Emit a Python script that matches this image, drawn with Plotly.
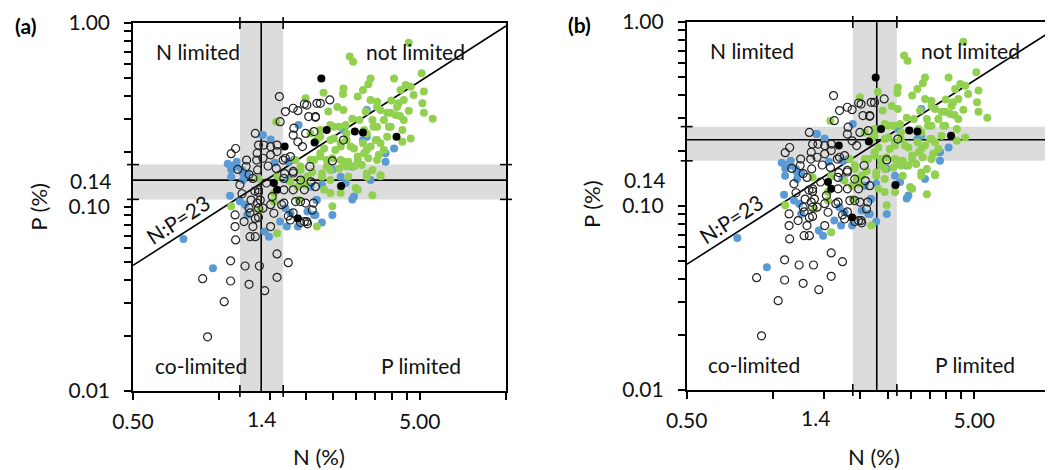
import numpy as np
import plotly.graph_objects as go

# ---------------- data (N %, P %) ----------------
open_N = [1.62, 1.70, 1.81, 1.88, 1.98, 2.19, 1.63, 2.05, 2.165, 1.335, 1.82, 1.81, 2.0, 2.14,
          1.14, 1.37, 1.51, 1.59, 1.88, 1.355, 1.51, 1.59, 1.70, 1.35, 1.24, 1.36, 1.48, 1.58,
          1.69, 1.81, 1.31, 1.68, 1.29, 1.39, 1.53, 1.68, 1.81, 1.845, 1.92, 1.135, 1.27, 1.37,
          1.42, 1.55, 1.22, 1.335, 1.37, 1.31, 1.51, 1.74, 1.98, 2.03, 1.28, 1.335, 1.14, 1.59,
          1.74, 1.095, 1.23, 1.38, 0.875, 1.095, 1.27, 1.59, 1.44, 1.04, 0.91, 2.43, 2.25, 2.165,
          2.02, 2.71, 2.48, 2.07, 1.98, 2.165, 2.0, 2.11, 2.02, 1.95, 1.37, 1.46, 1.42, 1.18,
          1.51, 1.65, 1.10, 1.16, 1.27, 1.20, 1.33,
          1.245, 1.43, 1.67, 1.77, 1.81, 1.92, 2.09, 2.13, 1.37, 1.355, 1.28, 1.135, 1.68, 1.81,
          1.77, 1.92]
open_P = [0.398, 0.33, 0.344, 0.334, 0.363, 0.366, 0.291, 0.31, 0.31, 0.251, 0.268, 0.246, 0.251,
          0.257, 0.208, 0.217, 0.213, 0.217, 0.226, 0.196, 0.192, 0.20, 0.184, 0.18, 0.166, 0.159,
          0.167, 0.162, 0.152, 0.156, 0.143, 0.143, 0.109, 0.109, 0.114, 0.124, 0.124, 0.107,
          0.107, 0.0906, 0.0985, 0.0985, 0.0985, 0.0925, 0.0833, 0.0867, 0.0878, 0.0783, 0.0783,
          0.0894, 0.0833, 0.081, 0.069, 0.069, 0.0662, 0.0556, 0.0498, 0.051, 0.0478, 0.0478,
          0.0408, 0.0396, 0.038, 0.0415, 0.0351, 0.0306, 0.0197, 0.382, 0.366, 0.307, 0.358,
          0.231, 0.178, 0.166, 0.124, 0.129, 0.105, 0.0964, 0.0833, 0.213, 0.124, 0.135, 0.184,
          0.132, 0.103, 0.103, 0.195, 0.160, 0.150, 0.118, 0.122,
          0.18, 0.217, 0.18, 0.188, 0.153, 0.14, 0.137, 0.105, 0.12, 0.105, 0.093, 0.0783, 0.105,
          0.093, 0.085, 0.0823]

blue_N = [1.89, 1.42, 1.51, 1.15, 1.10, 1.20, 1.21, 1.56, 1.74, 1.82, 1.09, 1.18, 1.74, 1.25,
          1.70, 1.77, 1.63, 1.72, 1.49, 1.44, 2.165, 2.19, 2.03, 1.88, 0.75, 0.95, 3.27, 2.71,
          3.17, 4.07, 3.8, 2.91, 2.48, 2.28, 2.65, 2.76, 2.95, 2.48, 2.28, 2.14, 2.18, 2.08,
          2.03, 3.37, 3.8, 2.91, 3.27, 1.12, 1.07, 1.25, 1.10, 1.21, 1.15, 1.41, 1.23]
blue_P = [0.279, 0.246, 0.233, 0.176, 0.16, 0.159, 0.14, 0.174, 0.176, 0.18, 0.115, 0.107, 0.14,
          0.0906, 0.0985, 0.0925, 0.0833, 0.0783, 0.069, 0.0737, 0.0906, 0.109, 0.0945, 0.0783,
          0.067, 0.0464, 0.337, 0.262, 0.231, 0.208, 0.196, 0.166, 0.16, 0.132, 0.146, 0.135,
          0.114, 0.0906, 0.0823, 0.0906, 0.109, 0.129, 0.146, 0.14, 0.176, 0.11, 0.241,
          0.168, 0.172, 0.150, 0.146, 0.152, 0.166, 0.246, 0.103]

green_N = [2.0, 1.58, 2.08, 1.37, 1.59, 1.95, 1.10, 1.55, 1.39, 1.89, 2.19, 1.59, 2.85, 2.93,
           4.58, 5.08, 3.37, 3.31, 2.71, 2.31, 2.70, 3.17, 4.07, 4.47, 4.65, 5.17, 4.29, 3.04,
           3.37, 3.55, 2.58, 2.71, 3.98, 4.22, 4.76, 5.11, 4.58, 3.24, 3.65, 3.85, 4.12, 2.91,
           3.08, 3.42, 4.27, 5.17, 5.55, 2.44, 2.62, 3.55, 3.9, 4.35, 4.65, 4.35, 2.25, 2.51,
           2.78, 3.27, 3.51, 3.65, 3.17, 2.32, 2.65, 2.95, 3.27, 3.6, 3.04, 3.31, 2.82, 2.25,
           2.48, 2.71, 2.37, 2.62, 2.95, 2.82, 3.27, 3.65, 2.28, 2.32, 2.65, 3.42, 3.04, 2.48,
           3.42, 2.99, 2.08, 1.92, 2.11, 2.44, 2.54, 1.77, 1.845, 2.0, 3.14, 2.76, 2.40,
           2.14, 2.25, 2.37, 2.44, 2.28, 2.65, 2.78, 3.04, 3.2, 3.37, 2.87, 2.65, 2.44, 2.19,
           2.25, 2.51, 2.78, 3.2, 3.45, 3.75, 3.96, 4.17, 4.4, 3.55, 3.55, 3.85, 3.96, 4.4,
           3.55, 3.75, 3.27, 3.65, 2.65, 2.44, 1.92, 2.03, 1.88, 1.55]
green_P = [0.39, 0.291, 0.251, 0.143, 0.145, 0.14, 0.101, 0.107, 0.0964, 0.109, 0.0783, 0.072,
           0.657, 0.616, 0.78, 0.534, 0.50, 0.464, 0.44, 0.418, 0.411, 0.432, 0.50, 0.46, 0.451,
           0.425, 0.432, 0.398, 0.382, 0.373, 0.35, 0.337, 0.379, 0.366, 0.406, 0.366, 0.334,
           0.33, 0.337, 0.325, 0.316, 0.302, 0.297, 0.297, 0.312, 0.325, 0.302, 0.279, 0.273,
           0.273, 0.273, 0.262, 0.236, 0.226, 0.241, 0.236, 0.231, 0.251, 0.231, 0.222, 0.222,
           0.208, 0.213, 0.208, 0.204, 0.192, 0.188, 0.184, 0.176, 0.188, 0.184, 0.176, 0.166,
           0.162, 0.166, 0.146, 0.146, 0.147, 0.146, 0.124, 0.119, 0.116, 0.124, 0.101, 0.159,
           0.127, 0.18, 0.159, 0.155, 0.14, 0.204, 0.137, 0.18, 0.132, 0.169, 0.279, 0.33,
           0.18, 0.196, 0.18, 0.159, 0.152, 0.18, 0.166, 0.18, 0.196, 0.213, 0.213, 0.222, 0.231,
           0.231, 0.262, 0.273, 0.251, 0.262, 0.273, 0.297, 0.325, 0.35, 0.382, 0.35, 0.231,
           0.241, 0.273, 0.297, 0.18, 0.204, 0.152, 0.149, 0.129, 0.119, 0.166, 0.146, 0.129,
           0.119]

black_N = [2.27, 2.37, 2.97, 3.17, 4.15, 2.15, 1.69, 1.55, 1.59, 2.66, 1.88]
black_P = [0.50, 0.262, 0.257, 0.254, 0.241, 0.224, 0.213, 0.135, 0.124, 0.13, 0.0867]

# thresholds for panel (a) and (b)
N_thr = [1.4, 2.29]
N_band_lo = [1.18, 1.89]
N_band_hi = [1.67, 2.69]
P_thr = [0.14, 0.229]
P_band_lo = [0.11, 0.176]
P_band_hi = [0.17, 0.27]
NP_molar = 23            # N:P molar ratio  -> mass ratio = 23*14/31
line_N = [0.5, 10.0]

x_major = [0.5, 5.0]
x_major_text = ["0.50", "5.00"]
x_minor = [1.0, 1.5, 2.0, 2.5, 3.0, 3.5, 4.0, 4.5, 10.0]
y_major = [0.01, 0.1, 1.0]
y_major_text = ["0.01", "0.10", "1.00"]
y_minor = [0.02, 0.03, 0.04, 0.05, 0.06, 0.07, 0.08, 0.09, 0.2, 0.3, 0.4, 0.5, 0.6, 0.7, 0.8, 0.9]

regions = ["N limited", "not limited", "co-limited", "P limited"]
region_N = [0.84, 4.84, 0.86, 5.04]
region_P = [0.70, 0.70, 0.0138, 0.0138]

# ---------------- figure ----------------
OFF = 8                       # page body margin in the browser
W, H = 1053 - OFF, 470 - OFF
FONT = "Lato, Carlito, Calibri, sans-serif"
FS = 21
BLUE = "#5B9BD5"
GREEN = "#92D050"
BAND = "#DCDCDC"
TXT = "#111111"


def px_x(p):
    return (p - OFF) / W


def px_y(p):
    return 1 - (p - OFF) / H


fig = go.Figure()
axes = [("x", "y"), ("x2", "y2")]
line_P = [n * 31 / (14 * NP_molar) for n in line_N]

for i, (xa, ya) in enumerate(axes):
    fig.add_trace(go.Scatter(x=line_N, y=line_P, mode="lines", xaxis=xa, yaxis=ya,
                             line=dict(color="black", width=1.6), showlegend=False, hoverinfo="skip"))
    fig.add_trace(go.Scatter(x=blue_N, y=blue_P, mode="markers", xaxis=xa, yaxis=ya,
                             marker=dict(color=BLUE, size=8), showlegend=False))
    fig.add_trace(go.Scatter(x=green_N, y=green_P, mode="markers", xaxis=xa, yaxis=ya,
                             marker=dict(color=GREEN, size=8), showlegend=False))
    fig.add_trace(go.Scatter(x=open_N, y=open_P, mode="markers", xaxis=xa, yaxis=ya,
                             marker=dict(symbol="circle-open", color="#222222", size=8,
                                         line=dict(width=1.2)), showlegend=False))
    fig.add_trace(go.Scatter(x=black_N, y=black_P, mode="markers", xaxis=xa, yaxis=ya,
                             marker=dict(color="black", size=8), showlegend=False))

    xd = xa + " domain"
    yd = ya + " domain"
    # gray bands
    fig.add_shape(type="rect", xref=xa, yref=yd, x0=N_band_lo[i], x1=N_band_hi[i], y0=0, y1=1,
                  fillcolor=BAND, line_width=0, layer="below")
    fig.add_shape(type="rect", xref=xd, yref=ya, x0=0, x1=1, y0=P_band_lo[i], y1=P_band_hi[i],
                  fillcolor=BAND, line_width=0, layer="below")
    # threshold lines
    fig.add_shape(type="line", xref=xa, yref=yd, x0=N_thr[i], x1=N_thr[i], y0=0, y1=1,
                  line=dict(color="black", width=1.6), layer="below")
    fig.add_shape(type="line", xref=xd, yref=ya, x0=0, x1=1, y0=P_thr[i], y1=P_thr[i],
                  line=dict(color="black", width=1.6), layer="below")
    # band edge crosses
    for xv in (N_band_lo[i], N_band_hi[i]):
        for yanc in (0, 1):
            fig.add_shape(type="line", xref=xa, yref=yd, x0=xv, x1=xv, ysizemode="pixel",
                          yanchor=yanc, y0=-6, y1=6, line=dict(color="black", width=1.6))
    for yv in (P_band_lo[i], P_band_hi[i]):
        for xanc in (0, 1):
            fig.add_shape(type="line", xref=xd, yref=ya, y0=yv, y1=yv, xsizemode="pixel",
                          xanchor=xanc, x0=-6, x1=6, line=dict(color="black", width=1.6))
    # region labels
    for t, rn, rp in zip(regions, region_N, region_P):
        fig.add_annotation(x=np.log10(rn), y=np.log10(rp), xref=xa, yref=ya, text=t,
                           xanchor="center", yanchor="middle",
                           showarrow=False, font=dict(family=FONT, size=FS, color=TXT))
    fig.add_annotation(x=np.log10(0.715), y=np.log10(0.085), xref=xa, yref=ya, text="N:P=23",
                       xanchor="center", yanchor="middle",
                       textangle=-33, showarrow=False, font=dict(family=FONT, size=FS, color=TXT))
    # extra tick labels 1.4 and 0.14
    fig.add_annotation(x=np.log10(1.4), y=0, xref=xa, yref=yd, xanchor="center", yanchor="top",
                       yshift=-13, text="1.4", showarrow=False,
                       font=dict(family=FONT, size=FS, color=TXT))
    fig.add_annotation(x=0, y=np.log10(0.14), xref=xd, yref=ya, xanchor="right", yanchor="middle",
                       xshift=-19, text="0.14", showarrow=False,
                       font=dict(family=FONT, size=FS, color=TXT))

axis_common = dict(type="log", showgrid=False, zeroline=False, showline=True, linecolor="black",
                   linewidth=1.6, ticks="outside", ticklen=7, tickwidth=1.6, tickcolor="black",
                   automargin=False, ticklabeloverflow="allow",
                   tickfont=dict(family=FONT, size=FS, color=TXT))
minor_common = dict(ticks="outside", ticklen=7, tickwidth=1.6, tickcolor="black")

x_a_dom = [px_x(133), px_x(506)]
x_b_dom = [px_x(686.7), 1.0]
y_a_dom = [px_y(391), px_y(23)]
y_b_dom = [px_y(390), px_y(22)]
xr_a = [np.log10(0.5), np.log10(10)]
xr_b = [np.log10(0.5), np.log10(0.5) + (1053 - 686.7) / 287.6]

fig.update_layout(
    template="none",
    width=W, height=H, margin=dict(l=0, r=0, t=0, b=0, autoexpand=False),
    paper_bgcolor="white", plot_bgcolor="white",
    xaxis=dict(axis_common, domain=x_a_dom, range=xr_a, anchor="y", mirror=True, ticklabelstandoff=4,
               tickvals=x_major, ticktext=x_major_text, minor=dict(minor_common, tickvals=x_minor)),
    yaxis=dict(axis_common, domain=y_a_dom, range=[-2, 0], anchor="x", mirror=True, ticklabelstandoff=10,
               tickvals=y_major, ticktext=y_major_text, minor=dict(minor_common, tickvals=y_minor)),
    xaxis2=dict(axis_common, domain=x_b_dom, range=xr_b, anchor="y2", mirror=True, ticklabelstandoff=4,
                tickvals=x_major, ticktext=x_major_text, minor=dict(minor_common, tickvals=x_minor)),
    yaxis2=dict(axis_common, domain=y_b_dom, range=[-2, 0], anchor="x2", mirror=False, ticklabelstandoff=10,
                tickvals=y_major, ticktext=y_major_text, minor=dict(minor_common, tickvals=y_minor)),
)

# panel letters and axis titles
for txt, px, py in [("<b>(a)</b>", 25, 25), ("<b>(b)</b>", 579, 24)]:
    fig.add_annotation(x=px_x(px), y=px_y(py), xref="paper", yref="paper", text=txt,
                       xanchor="center", yanchor="middle",
                       showarrow=False, font=dict(family=FONT, size=FS, color="black"))
for px in (318.5, 874):
    fig.add_annotation(x=px_x(px), y=px_y(456.7), xref="paper", yref="paper", text="N (%)",
                       xanchor="center", yanchor="middle",
                       showarrow=False, font=dict(family=FONT, size=FS + 1, color=TXT))
for px, py in ((37.7, 207), (591, 204)):
    fig.add_annotation(x=px_x(px), y=px_y(py), xref="paper", yref="paper", text="P (%)",
                       xanchor="center", yanchor="middle",
                       textangle=-90, showarrow=False, font=dict(family=FONT, size=FS + 1, color=TXT))

fig.write_html("out.html")
